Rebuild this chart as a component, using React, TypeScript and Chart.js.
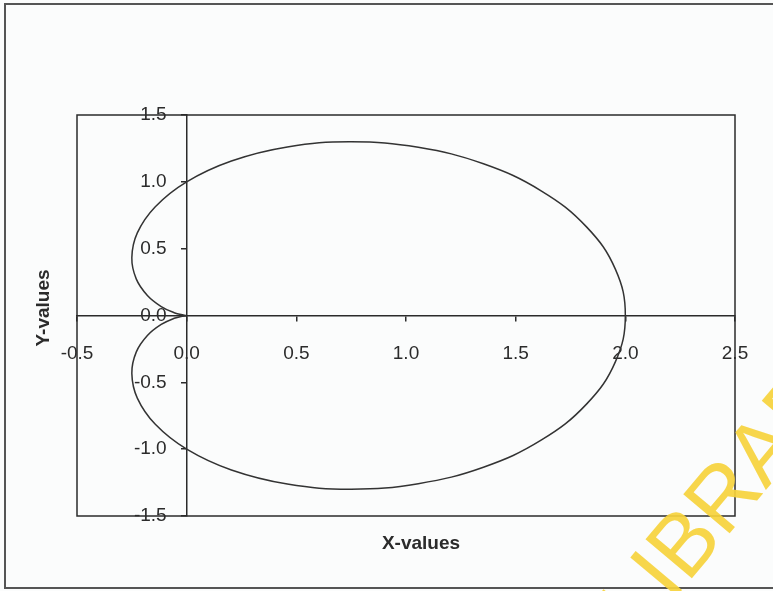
import React, { useEffect, useRef } from "react";
import { Chart, registerables } from "chart.js";

Chart.register(...registerables);

// Cardioid r = 1 + cos θ, sampled every 10°, starting and ending at the cusp (θ = 180°)
const xValues = [
  0.0, -0.015, -0.057, -0.116, -0.179, -0.23, -0.25, -0.225, -0.143, 0.0,
  0.204, 0.459, 0.75, 1.056, 1.353, 1.616, 1.823, 1.955, 2.0,
  1.955, 1.823, 1.616, 1.353, 1.056, 0.75, 0.459, 0.204, 0.0,
  -0.143, -0.225, -0.25, -0.23, -0.179, -0.116, -0.057, -0.015, 0.0,
];
const yValues = [
  0.0, -0.003, -0.021, -0.067, -0.15, -0.274, -0.433, -0.618, -0.814, -1.0,
  -1.156, -1.261, -1.299, -1.258, -1.135, -0.933, -0.663, -0.345, 0.0,
  0.345, 0.663, 0.933, 1.135, 1.258, 1.299, 1.261, 1.156, 1.0,
  0.814, 0.618, 0.433, 0.274, 0.15, 0.067, 0.021, 0.003, 0.0,
];

const xTicks = [-0.5, 0.0, 0.5, 1.0, 1.5, 2.0, 2.5];
const yTicks = [-1.5, -1.0, -0.5, 0.0, 0.5, 1.0, 1.5];

const xTitle = "X-values";
const yTitle = "Y-values";
const watermark = "LIBRARY";

const FONT = "'Liberation Sans', Arial, Helvetica, sans-serif";
const INK = "#2b2b2b";
const Y_LABEL_GAP = 20;

const decor = {
  id: "decor",
  beforeDraw(chart: any) {
    const { ctx, width } = chart;
    ctx.save();
    ctx.fillStyle = "#fbfcfc";
    ctx.fillRect(0, 0, width, chart.height);
    // outer chart border (right edge runs off the canvas)
    ctx.strokeStyle = "#555";
    ctx.lineWidth = 2;
    ctx.beginPath();
    ctx.moveTo(width + 5, 4);
    ctx.lineTo(5, 4);
    ctx.lineTo(5, 588);
    ctx.lineTo(width + 5, 588);
    ctx.stroke();
    ctx.restore();

    // y tick labels sit a little left of the crossing axis
    const yScale = chart.scales.y;
    const items = yScale.getLabelItems();
    if (!yScale.$shifted) {
      items.forEach((it: any) => {
        it.options.translation = [it.options.translation[0] - Y_LABEL_GAP, it.options.translation[1]];
      });
      yScale.$shifted = true;
    }
  },
  beforeDatasetsDraw(chart: any) {
    const { ctx, chartArea: a } = chart;
    ctx.save();
    ctx.strokeStyle = INK;
    ctx.lineWidth = 1.5;
    ctx.strokeRect(a.left, a.top, a.right - a.left, a.bottom - a.top);
    ctx.restore();
  },
  afterDraw(chart: any) {
    const { ctx } = chart;
    ctx.save();
    ctx.fillStyle = INK;
    ctx.font = `bold 19px ${FONT}`;
    ctx.textAlign = "center";
    ctx.textBaseline = "middle";
    ctx.fillText(xTitle, 421, 544);
    ctx.translate(44, 308);
    ctx.rotate(-Math.PI / 2);
    ctx.fillText(yTitle, 0, 0);
    ctx.restore();

    ctx.save();
    ctx.fillStyle = "rgba(246, 210, 60, 0.92)";
    ctx.font = `88px ${FONT}`;
    ctx.textAlign = "left";
    ctx.textBaseline = "alphabetic";
    ctx.translate(640, 640);
    ctx.rotate((-50 * Math.PI) / 180);
    ctx.fillText(watermark, 0, 0);
    ctx.restore();
  },
};

export default function App() {
  const ref = useRef<HTMLCanvasElement | null>(null);

  useEffect(() => {
    if (!ref.current) return;
    const points = xValues.map((x, i) => ({ x, y: yValues[i] }));
    const chart = new Chart(ref.current, {
      type: "scatter",
      data: {
        datasets: [
          {
            data: points,
            showLine: true,
            borderColor: "#333",
            borderWidth: 1.5,
            pointRadius: 0,
            tension: 0.4,
            fill: false,
          },
        ],
      },
      options: {
        responsive: false,
        animation: false,
        layout: { padding: { left: 77, top: 115, right: 38, bottom: 75 } },
        plugins: { legend: { display: false }, tooltip: { enabled: false } },
        scales: {
          x: {
            type: "linear",
            position: { y: 0 } as any,
            min: -0.5,
            max: 2.5,
            afterBuildTicks: (s: any) => {
              s.ticks = xTicks.map((value) => ({ value }));
            },
            afterFit: (s: any) => {
              s.height = 0;
            },
            grid: {
              drawOnChartArea: false,
              drawTicks: true,
              tickLength: 5,
              color: INK,
              lineWidth: 1.5,
            },
            border: { display: true, color: INK, width: 1.5 },
            ticks: {
              color: INK,
              padding: 22,
              maxRotation: 0,
              autoSkip: false,
              font: { family: FONT, size: 19 },
              callback: (v: any) => Number(v).toFixed(1),
            },
          },
          y: {
            type: "linear",
            position: { x: 0 } as any,
            min: -1.5,
            max: 1.5,
            afterBuildTicks: (s: any) => {
              s.ticks = yTicks.map((value) => ({ value }));
            },
            afterFit: (s: any) => {
              s.width = 0;
            },
            grid: {
              drawOnChartArea: false,
              drawTicks: true,
              tickLength: 5,
              color: INK,
              lineWidth: 1.5,
            },
            border: { display: true, color: INK, width: 1.5 },
            ticks: {
              color: INK,
              padding: 17,
              autoSkip: false,
              font: { family: FONT, size: 19 },
              callback: (v: any) => Number(v).toFixed(1),
            },
          },
        },
      },
      plugins: [decor],
    });
    return () => chart.destroy();
  }, []);

  return (
    <div style={{ position: "fixed", left: 0, top: 0, width: 773, height: 591 }}>
      <canvas ref={ref} width={773} height={591} />
    </div>
  );
}
